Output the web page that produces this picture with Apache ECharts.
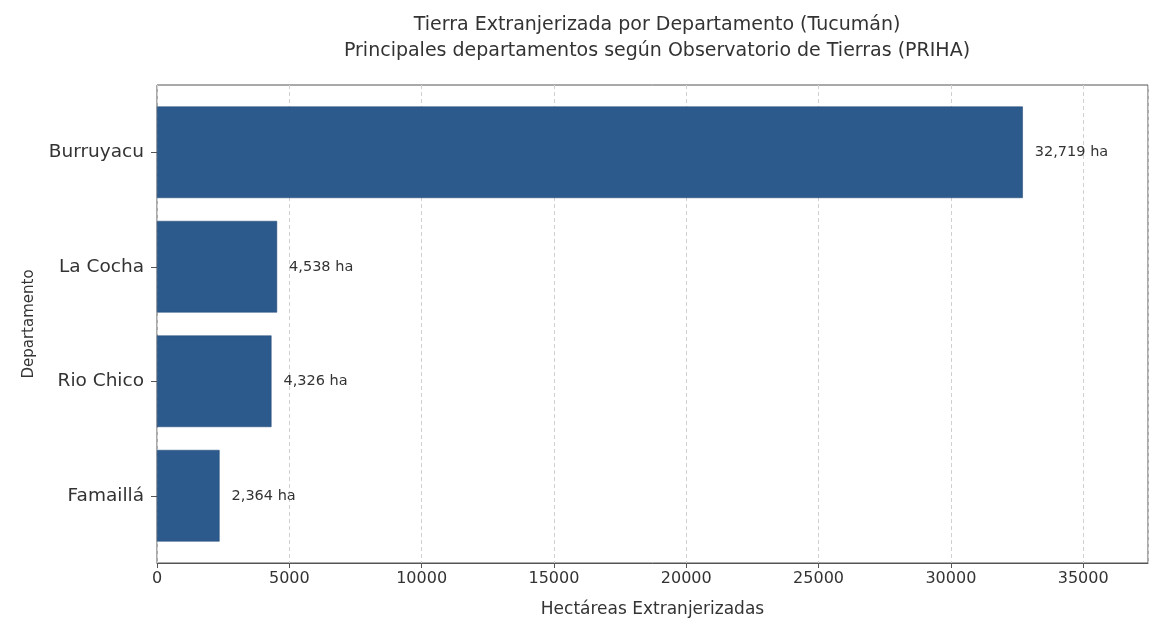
<!DOCTYPE html>
<html>
<head>
<meta charset="utf-8">
<script src="https://cdn.jsdelivr.net/npm/echarts@6/dist/echarts.min.js"></script>
<style>
html,body{margin:0;padding:0;background:#fff;}
#chart{width:1170px;height:637px;}
</style>
</head>
<body>
<div id="chart"></div>
<script>
const departamentos = ['Burruyacu', 'La Cocha', 'Rio Chico', 'Famaillá'];
const hectareas = [32719, 4538, 4326, 2364];
const xTicks = [0, 5000, 10000, 15000, 20000, 25000, 30000, 35000];

const titleText = 'Tierra Extranjerizada por Departamento (Tucumán)\nPrincipales departamentos según Observatorio de Tierras (PRIHA)';
const FONT = '"DejaVu Sans", sans-serif';
const TXT = '#333333';
const XMAX = 37450;

const chart = echarts.init(document.getElementById('chart'));
chart.setOption({
  backgroundColor: '#ffffff',
  animation: false,
  title: {
    text: titleText,
    left: 652, top: 7, textAlign: 'center',
    textStyle: {fontFamily: FONT, fontSize: 19, fontWeight: 'normal', color: TXT, lineHeight: 26}
  },
  grid: [
    {left: 157, right: 22, top: 85, bottom: 74, show: true, borderColor: '#555', borderWidth: 1, containLabel: false},
    {left: 157, right: 22, top: 95, bottom: 84, containLabel: false}
  ],
  xAxis: [
    {
      gridIndex: 0, type: 'value', min: 0, max: XMAX, interval: 5000,
      axisLine: {show: true, lineStyle: {color: '#555'}},
      axisTick: {show: true, length: 5, lineStyle: {color: '#555'}},
      axisLabel: {
        fontFamily: FONT, fontSize: 16, color: TXT, margin: 8,
        formatter: v => xTicks.indexOf(v) >= 0 ? String(v) : '',
        showMaxLabel: false
      },
      splitLine: {show: true, lineStyle: {color: '#d0d0d0', type: [4, 3], width: 1}},
      name: 'Hectáreas Extranjerizadas', nameLocation: 'middle', nameGap: 38,
      nameTextStyle: {fontFamily: FONT, fontSize: 17, color: TXT}
    },
    {
      gridIndex: 1, type: 'value', min: 0, max: XMAX, show: false
    }
  ],
  yAxis: [
    {gridIndex: 0, type: 'value', show: false, min: 0, max: 1},
    {
      gridIndex: 1, type: 'category', data: departamentos, inverse: true,
      axisLine: {show: false},
      axisTick: {show: true, alignWithLabel: true, length: 6, lineStyle: {color: '#555'}},
      axisLabel: {fontFamily: FONT, fontSize: 18.5, color: TXT, margin: 13},
      name: 'Departamento', nameLocation: 'middle', nameGap: 120, nameRotate: 90,
      nameTextStyle: {fontFamily: FONT, fontSize: 15, color: TXT}
    }
  ],
  series: [{
    type: 'bar',
    xAxisIndex: 1, yAxisIndex: 1,
    data: hectareas,
    barWidth: '80%',
    itemStyle: {color: '#2c5a8c', borderColor: '#1e4572', borderWidth: 0.5},
    label: {
      show: true, position: 'right', distance: 12,
      fontFamily: FONT, fontSize: 14.5, color: TXT,
      formatter: p => p.value.toLocaleString('en-US') + ' ha'
    }
  }]
});
</script>
</body>
</html>
